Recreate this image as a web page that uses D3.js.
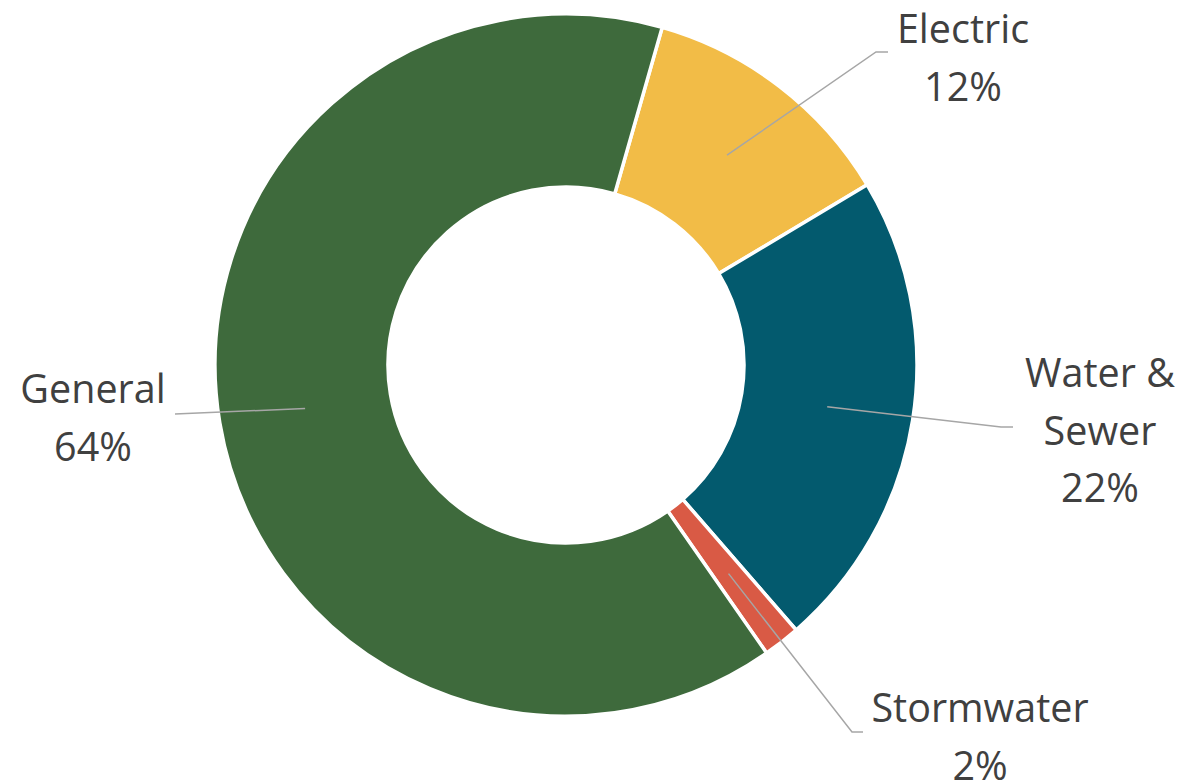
<!DOCTYPE html>
<html><head><meta charset="utf-8">
<script src="https://cdn.jsdelivr.net/npm/d3@7"></script>
<style>html,body{margin:0;padding:0;background:#fff;}</style>
</head><body>
<svg id="c" width="1196" height="781"></svg>
<script>
const categories = ["Electric", "Water & Sewer", "Stormwater", "General"];
const values = [12.0, 22.2, 1.7, 64.1];
const percentLabels = ["12%", "22%", "2%", "64%"];
const labelLines = [["Electric"], ["Water &", "Sewer"], ["Stormwater"], ["General"]];
const colors = ["#F2BC47", "#035A6E", "#D95A45", "#3E6A3C"];

const svg = d3.select("#c");
const cx = 566, cy = 365, rOuter = 351, rInner = 178;
const startDeg = 15.9;
const pie = d3.pie().sort(null).value(d => d)
  .startAngle(startDeg * Math.PI / 180)
  .endAngle((startDeg + 360) * Math.PI / 180);
const arcs = pie(values);
const arc = d3.arc().innerRadius(rInner).outerRadius(rOuter);
const g = svg.append("g").attr("transform", `translate(${cx},${cy})`);
g.selectAll("path").data(arcs).join("path")
  .attr("d", arc)
  .attr("fill", (d, i) => colors[i])
  .attr("stroke", "#fff").attr("stroke-width", 3.5).attr("stroke-linejoin", "miter");

// label layout: [bend x, bend y, end x, end y, text center x, first baseline y]
const layout = [
  [876, 52, 888, 52, 963, 43],
  [1001, 427, 1013, 427, 1100, 387],
  [852, 732, 863, 732, 980, 722],
  [null, null, 175, 414, 93, 403]
];
const lh = 57.5;
arcs.forEach((d, i) => {
  const c = arc.centroid(d);
  const L = layout[i];
  const pts = [[cx + c[0], cy + c[1]]];
  if (L[0] !== null) pts.push([L[0], L[1]]);
  pts.push([L[2], L[3]]);
  svg.append("path").attr("d", d3.line()(pts))
    .attr("fill", "none").attr("stroke", "#A6A6A6").attr("stroke-width", 1.5);
  const lines = labelLines[i].concat([percentLabels[i]]);
  const t = svg.append("text")
    .attr("text-anchor", "middle")
    .attr("font-family", "'Open Sans', 'Noto Sans', sans-serif")
    .attr("font-size", 39.5).attr("fill", "#404040");
  lines.forEach((s, k) => {
    t.append("tspan").attr("x", L[4]).attr("y", L[5] + k * lh).text(s);
  });
});
</script>
</body></html>
